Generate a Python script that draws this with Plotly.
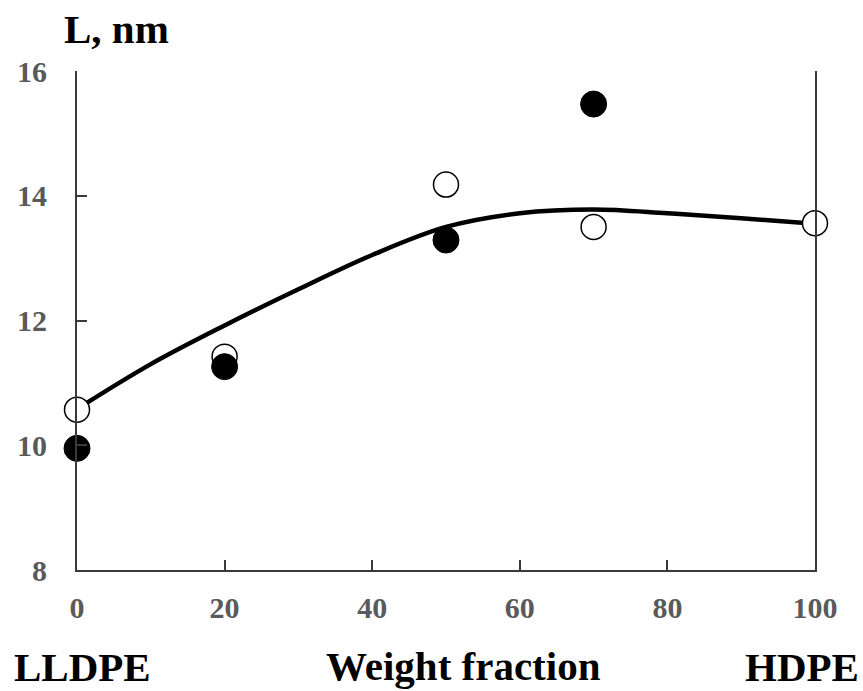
import plotly.graph_objects as go

# Weight fraction of HDPE (%), long period L (nm)
x_points = [0, 20, 50, 70]
L_filled = [9.95, 11.26, 13.29, 15.47]

x_open = [0, 20, 50, 70, 100]
L_open = [10.57, 11.42, 14.18, 13.50, 13.56]

# Trend curve read at regular steps
x_trend = [0, 10, 20, 30, 40, 50, 60, 70, 80, 90, 100]
L_trend = [10.58, 11.30, 11.92, 12.50, 13.05, 13.50, 13.72, 13.78, 13.72, 13.64, 13.55]

x_ticks = [0, 20, 40, 60, 80, 100]
y_ticks = [8, 10, 12, 14, 16]

SERIF = "Liberation Serif, Times New Roman, serif"
TICK_COLOR = "#5a5a5a"
AXIS_COLOR = "#3a3a3a"

fig = go.Figure()

fig.add_trace(go.Scatter(
    x=x_trend, y=L_trend, mode="lines",
    line=dict(color="black", width=4.5, shape="spline", smoothing=1.0),
    hoverinfo="skip", showlegend=False,
))
fig.add_trace(go.Scatter(
    x=x_open, y=L_open, mode="markers",
    marker=dict(symbol="circle", size=25, color="white",
                line=dict(color="black", width=1.5)),
    showlegend=False, cliponaxis=False,
))
fig.add_trace(go.Scatter(
    x=x_points, y=L_filled, mode="markers",
    marker=dict(symbol="circle", size=26, color="black",
                line=dict(color="black", width=1)),
    showlegend=False, cliponaxis=False,
))

fig.update_xaxes(
    range=[0, 100], tickvals=x_ticks, ticks="inside", ticklen=10, tickwidth=2,
    tickcolor=AXIS_COLOR, showline=True, linecolor=AXIS_COLOR, linewidth=2,
    showgrid=False, zeroline=False, ticklabelstandoff=10,
    tickfont=dict(family=SERIF, size=30, color=TICK_COLOR, weight="bold"),
)
fig.update_yaxes(
    range=[8, 16], tickvals=y_ticks, ticks="inside", ticklen=10, tickwidth=2,
    tickcolor=AXIS_COLOR, showline=True, linecolor=AXIS_COLOR, linewidth=2,
    mirror=True, showgrid=False, zeroline=False, ticklabelstandoff=22,
    tickfont=dict(family=SERIF, size=30, color=TICK_COLOR, weight="bold"),
)

label_font = dict(family=SERIF, size=41, color="black", weight="bold")
fig.add_annotation(text="L, nm", xref="paper", yref="paper", x=0.0535, y=1.085,
                   xanchor="center", yanchor="middle", showarrow=False, font=label_font)
fig.add_annotation(text="LLDPE", xref="paper", yref="paper", x=0.0068, y=-0.194,
                   xanchor="center", yanchor="middle", showarrow=False, font=label_font)
fig.add_annotation(text="Weight fraction", xref="paper", yref="paper", x=0.524, y=-0.192,
                   xanchor="center", yanchor="middle", showarrow=False, font=label_font)
fig.add_annotation(text="HDPE", xref="paper", yref="paper", x=0.983, y=-0.194,
                   xanchor="center", yanchor="middle", showarrow=False, font=label_font)

fig.update_layout(
    width=863, height=691,
    margin=dict(l=77, r=48, t=71, b=121),
    paper_bgcolor="white", plot_bgcolor="white",
)

fig.write_html("out.html")
